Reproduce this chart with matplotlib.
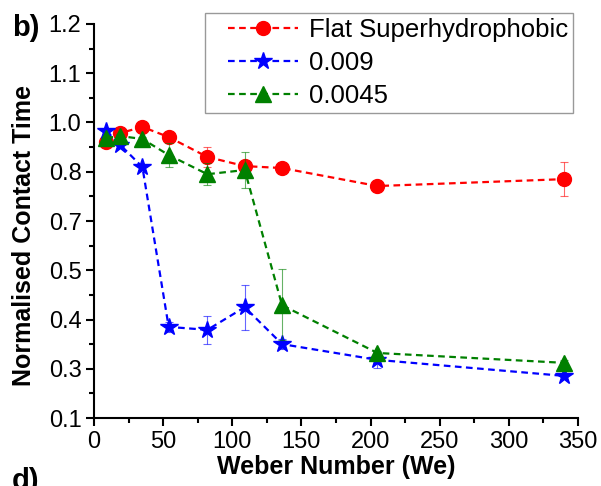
import numpy as np
import matplotlib.pyplot as plt
from matplotlib.lines import Line2D
from matplotlib.legend_handler import HandlerLine2D
from matplotlib.ticker import FixedLocator, MultipleLocator

plt.rcParams['font.family'] = ['Liberation Sans', 'DejaVu Sans']

# %% data
weber = [9, 19, 35, 54, 82, 109, 136, 205, 340]

flat = [0.921, 0.957, 0.982, 0.941, 0.860, 0.823, 0.815, 0.771, 0.785]
flat_lo = [0.01, 0.01, 0.01, 0.01, 0.041, 0.015, 0.01, 0.01, 0.034]
flat_hi = [0.01, 0.01, 0.01, 0.01, 0.040, 0.015, 0.01, 0.01, 0.055]

p009 = [0.965, 0.909, 0.819, 0.385, 0.379, 0.425, 0.350, 0.318, 0.271]
p009_lo = [0.005, 0.005, 0.01, 0.01, 0.029, 0.046, 0.01, 0.017, 0.005]
p009_hi = [0.005, 0.005, 0.01, 0.01, 0.028, 0.045, 0.01, 0.016, 0.005]

p0045 = [0.937, 0.945, 0.933, 0.868, 0.795, 0.807, 0.429, 0.332, 0.312]
p0045_lo = [0.03, 0.03, 0.03, 0.05, 0.022, 0.04, 0.071, 0.005, 0.005]
p0045_hi = [0.01, 0.01, 0.01, 0.05, 0.04, 0.073, 0.076, 0.005, 0.005]

# the y labels in the figure are evenly spaced but not evenly valued
y_ticks = [0.1, 0.3, 0.4, 0.5, 0.7, 0.8, 1.0, 1.1, 1.2]
x_ticks = [0, 50, 100, 150, 200, 250, 300, 350]

# %% piecewise scale for the y axis
tick_pos = np.arange(len(y_ticks), dtype=float)


def forward(v):
    return np.interp(v, y_ticks, tick_pos)


def inverse(p):
    return np.interp(p, tick_pos, y_ticks)


# %% plot
fig = plt.figure(figsize=(6.01, 4.86), dpi=100)
ax = fig.add_axes([94 / 601, 68 / 486, 484 / 601, 394 / 486])
ax.set_yscale('function', functions=(forward, inverse))

series = [
    (flat, flat_lo, flat_hi, 'red', 'o', 10, 'Flat Superhydrophobic'),
    (p009, p009_lo, p009_hi, 'blue', '*', 13, '0.009'),
    (p0045, p0045_lo, p0045_hi, 'green', '^', 11, '0.0045'),
]
for vals, lo, hi, col, mk, ms, lab in series:
    ax.errorbar(weber, vals, yerr=[lo, hi], fmt='none', ecolor=col,
                elinewidth=0.8, capsize=3, capthick=0.8, alpha=0.6)
    ax.plot(weber, vals, color=col, linestyle=(0, (3, 2)), linewidth=1.6,
            marker=mk, markersize=ms, markeredgecolor=col, label=lab)

ax.set_xlim(0, 350)
ax.set_ylim(0.1, 1.2)
ax.set_xticks(x_ticks)
ax.xaxis.set_minor_locator(MultipleLocator(25))
ax.set_yticks(y_ticks)
ax.set_yticklabels(['%.1f' % t for t in y_ticks])
ax.yaxis.set_minor_locator(FixedLocator(inverse(tick_pos[:-1] + 0.5)))

for s in ['top', 'right']:
    ax.spines[s].set_visible(False)
for s in ['left', 'bottom']:
    ax.spines[s].set_linewidth(1.5)
ax.tick_params(which='major', direction='out', length=6, width=1.5,
               labelsize=17, pad=3)
ax.tick_params(which='minor', direction='out', length=3.5, width=1.5)

ax.set_xlabel('Weber Number (We)', fontsize=18, fontweight='bold', labelpad=2)
ax.set_ylabel('Normalised Contact Time', fontsize=18, fontweight='bold')
ax.yaxis.set_label_coords(-0.12, 0.462)

leg = ax.legend(loc='upper right', bbox_to_anchor=(573 / 601, 1 - 13 / 486),
                bbox_transform=fig.transFigure, borderaxespad=0,
                fontsize=18.5, handlelength=3.45, handletextpad=0.4,
                labelspacing=0.34, borderpad=0.2, fancybox=False,
                handler_map={Line2D: HandlerLine2D(xpad=0.7)})
leg.get_frame().set_edgecolor('gray')
leg.get_frame().set_linewidth(1.0)

fig.text(12 / 601, 1 - 14 / 486, 'b)', fontsize=21, fontweight='bold',
         ha='left', va='top')
fig.text(12 / 601, 1 - 467 / 486, 'd)', fontsize=21, fontweight='bold',
         ha='left', va='top')

fig.savefig('out.png', dpi=100)
